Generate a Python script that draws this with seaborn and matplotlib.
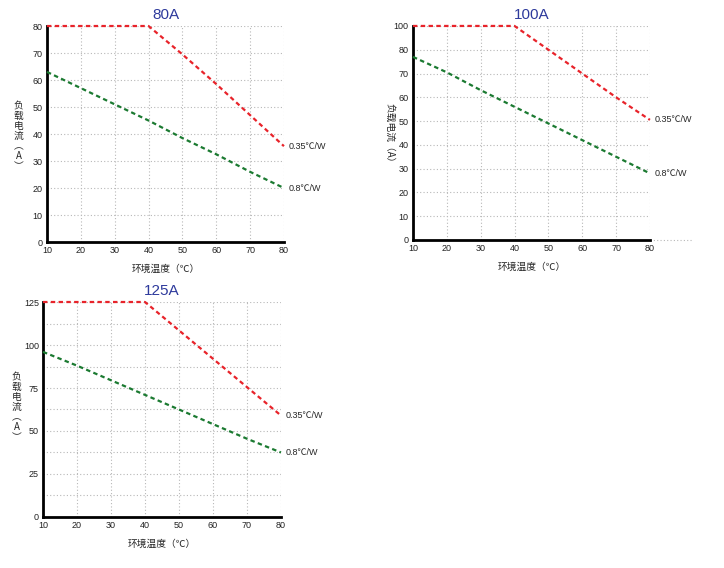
import matplotlib
matplotlib.use("Agg")
import matplotlib.pyplot as plt
import seaborn as sns
import pandas as pd

# ambient temperature (°C)
temps = [10, 20, 30, 40, 50, 60, 70, 80]

# 80A panel
red_80 = [80, 80, 80, 80, 69.5, 58.5, 47, 35.5]
green_80 = [63, 57, 51, 45, 38.5, 32.5, 26, 20]
yticks_80 = [0, 10, 20, 30, 40, 50, 60, 70, 80]
ylabels_80 = ["0", "10", "20", "30", "40", "50", "60", "70", "80"]

# 100A panel (top tick is labelled 100 in the source chart)
red_100 = [90, 90, 90, 90, 80, 70, 60, 50.5]
green_100 = [77, 70.5, 63, 56, 49, 42, 35, 28]
yticks_100 = [0, 10, 20, 30, 40, 50, 60, 70, 80, 90]
ylabels_100 = ["0", "10", "20", "30", "40", "50", "60", "70", "80", "100"]

# 125A panel
red_125 = [125, 125, 125, 125, 108.5, 92, 75.5, 59]
green_125 = [96, 88, 79.5, 71, 62.5, 54, 45.5, 37.5]
yticks_125 = [0, 25, 50, 75, 100, 125]
ylabels_125 = ["0", "25", "50", "75", "100", "125"]
yminor_125 = [12.5, 37.5, 62.5, 87.5, 112.5]

series_names = ["0.35℃/W", "0.8℃/W"]
xlabel = "环境温度（℃）"

sns.set_style("white")
plt.rcParams["font.family"] = ["Liberation Sans", "Noto Sans CJK SC", "DejaVu Sans"]

RED = "#e8232a"
GREEN = "#1b7a31"
TITLE_C = "#2e3a9c"
GRID_KW = dict(color="#b8b8b8", linestyle=(0, (1, 2)), linewidth=0.8)


def draw_panel(ax, title, red, green, yticks, ylabels, ymax, minor=None,
               ylab_pos=(-0.1, 0.5), ylab_rot=None):
    df = pd.DataFrame({"t": temps * 2,
                       "i": red + green,
                       "s": [series_names[0]] * len(temps) + [series_names[1]] * len(temps)})
    sns.lineplot(data=df, x="t", y="i", hue="s", palette=[RED, GREEN],
                 ax=ax, legend=False, linewidth=1.6, zorder=3)
    for ln in ax.get_lines():
        ln.set_dashes((2, 1.5))
        ln.set_clip_on(False)
    ax.set_xlim(10, 80)
    ax.set_ylim(0, ymax)
    ax.set_xticks(temps)
    ax.set_xticklabels([str(t) for t in temps])
    ax.set_yticks(yticks)
    ax.set_yticklabels(ylabels)
    if minor:
        ax.set_yticks(minor, minor=True)
        ax.grid(True, which="minor", axis="y", **GRID_KW)
    ax.grid(True, which="major", **GRID_KW)
    ax.tick_params(axis="both", which="both", length=0, labelsize=6.5, pad=3, colors="#222222")
    for side in ("top", "right"):
        ax.spines[side].set_visible(False)
    for side in ("left", "bottom"):
        ax.spines[side].set_color("black")
        ax.spines[side].set_linewidth(2)
    ax.set_xlabel(xlabel, fontsize=7, labelpad=6)
    ax.set_ylabel("")
    ax.set_title(title, fontsize=11, color=TITLE_C, pad=5)
    ax.text(81.5, red[-1], series_names[0], fontsize=6.5, va="center", ha="left", clip_on=False)
    ax.text(81.5, green[-1], series_names[1], fontsize=6.5, va="center", ha="left", clip_on=False)
    if ylab_rot is None:
        ax.text(ylab_pos[0], ylab_pos[1], "负\n载\n电\n流\n︵\nA\n︶", transform=ax.transAxes,
                fontsize=7, ha="center", va="center", linespacing=1.0,
                family=["Noto Sans CJK SC", "DejaVu Sans"])
    else:
        ax.text(ylab_pos[0], ylab_pos[1], "负载电流（A）", transform=ax.transAxes,
                fontsize=7, ha="center", va="center", rotation=ylab_rot,
                family=["Noto Sans CJK SC", "DejaVu Sans"])


fig = plt.figure(figsize=(7.24, 5.68), dpi=100)
ax1 = fig.add_axes([0.0649, 0.5739, 0.3273, 0.3803])
ax2 = fig.add_axes([0.5704, 0.5775, 0.3273, 0.3768])
ax3 = fig.add_axes([0.0594, 0.0898, 0.3287, 0.3785])

draw_panel(ax1, "80A", red_80, green_80, yticks_80, ylabels_80, 80,
           ylab_pos=(-0.12, 0.49))
draw_panel(ax2, "100A", red_100, green_100, yticks_100, ylabels_100, 90,
           ylab_pos=(-0.1, 0.49), ylab_rot=-90)
# dotted extension of the 100A x axis
ax2.axhline(0, xmin=1, xmax=1.18, clip_on=False, **GRID_KW)
draw_panel(ax3, "125A", red_125, green_125, yticks_125, ylabels_125, 125,
           minor=yminor_125, ylab_pos=(-0.11, 0.51))

fig.savefig("out.png", dpi=100)
